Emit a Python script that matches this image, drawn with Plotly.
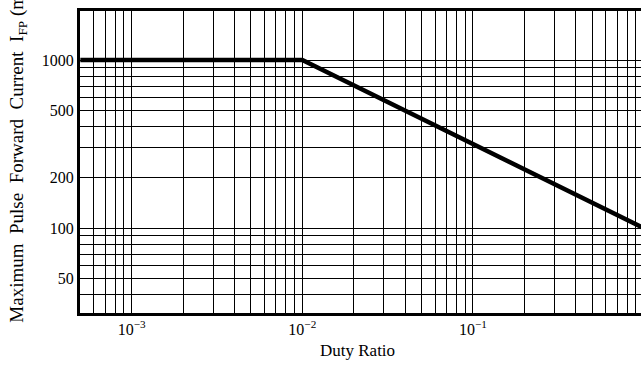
import numpy as np
import plotly.graph_objects as go

# Data
duty_ratio = [5e-4, 1e-2, 1.0]
max_pulse_current = [1000, 1000, 100]

# Tick labels
x_label_vals = [1e-3, 1e-2, 1e-1]
x_label_text = ["10<sup>\u22123</sup>", "10<sup>\u22122</sup>", "10<sup>\u22121</sup>"]
y_label_vals = [50, 100, 200, 500, 1000]
y_label_text = ["50", "100", "200", "500", "1000"]

# log grid (1..9 per decade)
x_grid = [m * 10.0 ** e for e in range(-4, 1) for m in range(1, 10)]
y_grid = [m * 10.0 ** e for e in range(1, 4) for m in range(1, 10)]

def lab(vals, lvals, ltext):
    out = []
    for v in vals:
        t = ""
        for lv, lt in zip(lvals, ltext):
            if abs(np.log10(v) - np.log10(lv)) < 1e-6:
                t = lt
        out.append(t)
    return out

FONT = "Liberation Serif"

fig = go.Figure()
fig.add_trace(go.Scatter(x=duty_ratio, y=max_pulse_current, mode="lines",
                         line=dict(color="black", width=4.5), showlegend=False,
                         hoverinfo="skip"))

fig.update_layout(
    width=641, height=366,
    margin=dict(l=80, r=0, t=11, b=53),
    paper_bgcolor="white", plot_bgcolor="white",
    font=dict(family=FONT, size=16, color="black"),
    xaxis=dict(type="log", range=[-3.303, -0.015], automargin=False,
               tickvals=x_grid, ticktext=lab(x_grid, x_label_vals, x_label_text),
               showgrid=True, gridcolor="black", gridwidth=1,
               showline=True, linecolor="black", linewidth=3, mirror=True,
               ticks="", zeroline=False),
    yaxis=dict(type="log", range=[1.494, 3.292], automargin=False,
               tickvals=y_grid, ticktext=lab(y_grid, y_label_vals, y_label_text),
               showgrid=True, gridcolor="black", gridwidth=1,
               showline=True, linecolor="black", linewidth=3, mirror=False,
               ticks="", zeroline=False),
)

fig.add_annotation(
    text="Duty Ratio",
    xref="paper", yref="paper", x=0.495, y=-0.123,
    xanchor="center", yanchor="middle", showarrow=False,
    font=dict(family=FONT, size=17, color="black"),
)

fig.add_annotation(
    text="Maximum\u00a0\u00a0Pulse\u00a0\u00a0Forward\u00a0\u00a0Current\u00a0\u00a0I<sub>FP</sub>\u00a0(mA)",
    xref="paper", yref="paper", x=-0.11, y=0.545,
    xanchor="center", yanchor="middle", textangle=-90, showarrow=False,
    font=dict(family=FONT, size=19, color="black"),
)

fig.write_html("out.html", config={"displayModeBar": False},
               post_script="document.body.style.margin='0';document.body.style.overflow='hidden';")
